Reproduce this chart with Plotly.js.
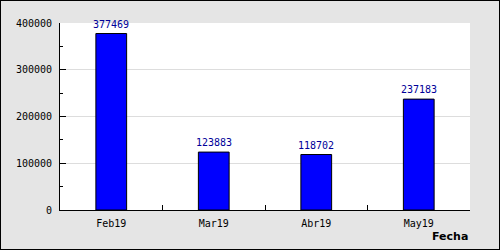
<!DOCTYPE html>
<html><head><meta charset="utf-8">
<script src="https://cdn.plot.ly/plotly-3.0.1.min.js"></script>
<style>
html,body{margin:0;padding:0;background:#e5e5e5;}
#wrap{position:relative;width:500px;height:250px;}
#chart{width:500px;height:250px;}
#frame{position:absolute;left:0;top:0;width:500px;height:250px;box-sizing:border-box;border:1px solid #000;pointer-events:none;}
</style></head>
<body>
<div id="wrap"><div id="chart"></div><div id="frame"></div></div>
<script>
const categories = ["Feb19", "Mar19", "Abr19", "May19"];
const values = [377469, 123883, 118702, 237183];
const yTicks = [0, 100000, 200000, 300000, 400000];
const xTitle = "Fecha";

const font = "DejaVu Sans Mono, monospace";

const trace = {
  type: "bar",
  x: categories,
  y: values,
  width: 0.3,
  marker: {color: "#0000ff", line: {color: "#000000", width: 1}},
  hoverinfo: "none"
};

const annotations = categories.map((c, i) => ({
  x: c, y: values[i], xref: "x", yref: "y",
  text: String(values[i]), showarrow: false,
  yanchor: "bottom", yshift: 2,
  font: {family: font, size: 10, color: "#000099"}
}));
annotations.push({
  x: 1, y: 0, xref: "paper", yref: "paper",
  xanchor: "right", yanchor: "middle", yshift: -26,
  text: "<b>" + xTitle + "</b>", showarrow: false,
  font: {family: "DejaVu Sans, sans-serif", size: 11, color: "#000000"}
});

const layout = {
  width: 500, height: 250,
  margin: {l: 60, r: 30, t: 23, b: 40, pad: 0},
  paper_bgcolor: "#e5e5e5",
  plot_bgcolor: "#ffffff",
  showlegend: false,
  bargap: 0.7,
  xaxis: {
    type: "category",
    showline: true, linecolor: "#000", linewidth: 1,
    ticks: "inside", tickson: "boundaries", ticklen: 5, tickcolor: "#000",
    showgrid: false, zeroline: false,
    tickfont: {family: font, size: 10, color: "#000"},
    ticklabelstandoff: 4,
    fixedrange: true
  },
  yaxis: {
    range: [0, 400000],
    tickvals: yTicks, ticktext: yTicks.map(String),
    showline: true, linecolor: "#000", linewidth: 1,
    ticks: "inside", ticklen: 6, tickcolor: "#000",
    minor: {dtick: 50000, ticks: "inside", ticklen: 3, tickcolor: "#000", showgrid: false},
    showgrid: true, gridcolor: "#dddddd", gridwidth: 1,
    zeroline: false,
    tickfont: {family: font, size: 10, color: "#000"},
    ticklabelstandoff: 5,
    fixedrange: true
  },
  annotations: annotations
};

Plotly.newPlot("chart", [trace], layout, {staticPlot: true, displayModeBar: false});
</script>
</body></html>
